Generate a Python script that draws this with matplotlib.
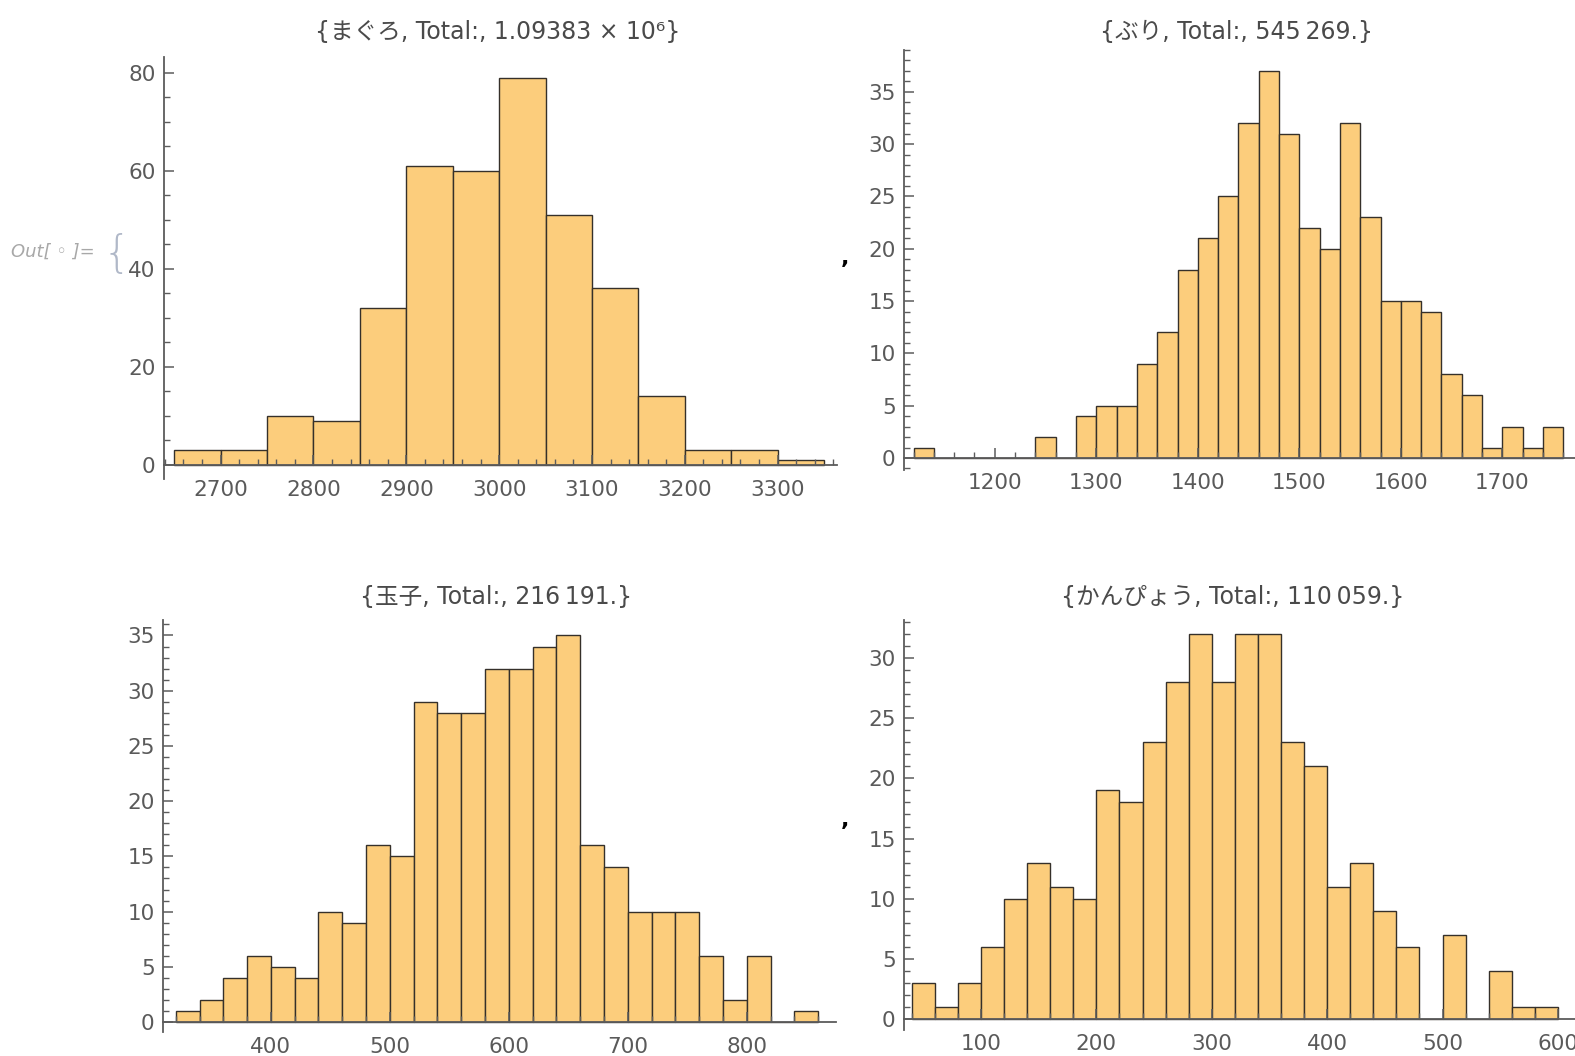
import matplotlib
matplotlib.use('Agg')
import matplotlib.pyplot as plt
from matplotlib.ticker import MultipleLocator
import numpy as np

plt.rcParams['font.family'] = ['DejaVu Sans', 'Noto Sans CJK JP']

# まぐろ
maguro_start = 2650
maguro_width = 50
maguro_counts = [3, 3, 10, 9, 32, 61, 60, 79, 51, 36, 14, 3, 3, 1]

# ぶり
buri_start = 1120
buri_width = 20
buri_counts = [1, 0, 0, 0, 0, 0, 2, 0, 4, 5, 5, 9, 12, 18, 21, 25, 32, 37,
               31, 22, 20, 32, 23, 15, 15, 14, 8, 6, 1, 3, 1, 3]

# 玉子
tamago_start = 320
tamago_width = 20
tamago_counts = [1, 2, 4, 6, 5, 4, 10, 9, 16, 15, 29, 28, 28, 32, 32, 34, 35,
                 16, 14, 10, 10, 10, 6, 2, 6, 0, 1]

# かんぴょう
kanpyo_start = 40
kanpyo_width = 20
kanpyo_counts = [3, 1, 3, 6, 10, 13, 11, 10, 19, 18, 23, 28, 32, 28, 32, 32,
                 23, 21, 11, 13, 9, 6, 0, 7, 0, 4, 1, 1]

titles = ['{まぐろ, Total:, 1.09383 × 10⁶}',
          '{ぶり, Total:, 545\u2009269.}',
          '{玉子, Total:, 216\u2009191.}',
          '{かんぴょう, Total:, 110\u2009059.}']

BAR_COLOR = '#FCCD7C'
EDGE_COLOR = '#35302a'
AXIS_COLOR = '#5c5c5c'
LABEL_COLOR = '#5a5a5a'

W, H = 1575, 1056
fig = plt.figure(figsize=(W / 100, H / 100), dpi=100)


def px_axes(x0, x1, y0, y1):
    # pixel box (left, right, top, bottom) -> figure fraction
    return fig.add_axes([x0 / W, 1 - y1 / H, (x1 - x0) / W, (y1 - y0) / H])


def draw_hist(ax, start, width, counts, xlim, ylim, xmaj, xmin, ymaj, ymin):
    edges = start + width * np.arange(len(counts))
    ax.bar(edges, counts, width=width, align='edge', color=BAR_COLOR,
           edgecolor=EDGE_COLOR, linewidth=1.0)
    ax.set_xlim(*xlim)
    ax.set_ylim(*ylim)
    for s in ['top', 'right']:
        ax.spines[s].set_visible(False)
    ax.spines['bottom'].set_position(('data', 0))
    for s in ['bottom', 'left']:
        ax.spines[s].set_color(AXIS_COLOR)
        ax.spines[s].set_linewidth(1.3)
    ax.xaxis.set_major_locator(MultipleLocator(xmaj))
    ax.xaxis.set_minor_locator(MultipleLocator(xmin))
    ax.yaxis.set_major_locator(MultipleLocator(ymaj))
    ax.yaxis.set_minor_locator(MultipleLocator(ymin))
    ax.tick_params(which='major', direction='in', length=7, width=1.1,
                   color=AXIS_COLOR, labelsize=15.5, labelcolor=LABEL_COLOR)
    ax.tick_params(which='minor', direction='in', length=4, width=1.0,
                   color=AXIS_COLOR)
    ax.tick_params(axis='x', which='major', pad=11)
    ax.tick_params(axis='y', which='major', pad=6)
    ax.patch.set_alpha(0)


ax1 = px_axes(164, 837, 57, 479)
draw_hist(ax1, maguro_start, maguro_width, maguro_counts,
          (2639, 3364), (-2.86, 83.2), 100, 20, 20, 5)

ax2 = px_axes(904, 1575, 50, 470)
draw_hist(ax2, buri_start, buri_width, buri_counts,
          (1110.6, 1771.5), (-1.15, 39.0), 100, 20, 5, 1)

ax3 = px_axes(163, 836, 620, 1032)
draw_hist(ax3, tamago_start, tamago_width, tamago_counts,
          (309.3, 875), (-0.9, 36.4), 100, 20, 5, 1)

ax4 = px_axes(904, 1575, 620, 1030)
draw_hist(ax4, kanpyo_start, kanpyo_width, kanpyo_counts,
          (33.3, 614.8), (-0.9, 33.15), 100, 20, 5, 1)

title_pos = [(498, 32), (1236, 32), (496, 597), (1233, 597)]
for t, (x, y) in zip(titles, title_pos):
    fig.text(x / W, 1 - y / H, t, ha='center', va='center', fontsize=17,
             color='#4a4a4a')

fig.text(53 / W, 1 - 252 / H, 'Out[ \u25e6 ]=', ha='center', va='center',
         fontsize=13, style='italic', color='#a8a8a8')
fig.text(117 / W, 1 - 255 / H, '{', ha='center', va='center',
         fontsize=32, color='#b0b8c8', fontweight='light')
fig.text(845 / W, 1 - 258 / H, ',', ha='center', va='center',
         fontsize=16, fontweight='bold', color='black')
fig.text(845 / W, 1 - 820 / H, ',', ha='center', va='center',
         fontsize=16, fontweight='bold', color='black')

fig.savefig('out.png', dpi=100, facecolor='white')
